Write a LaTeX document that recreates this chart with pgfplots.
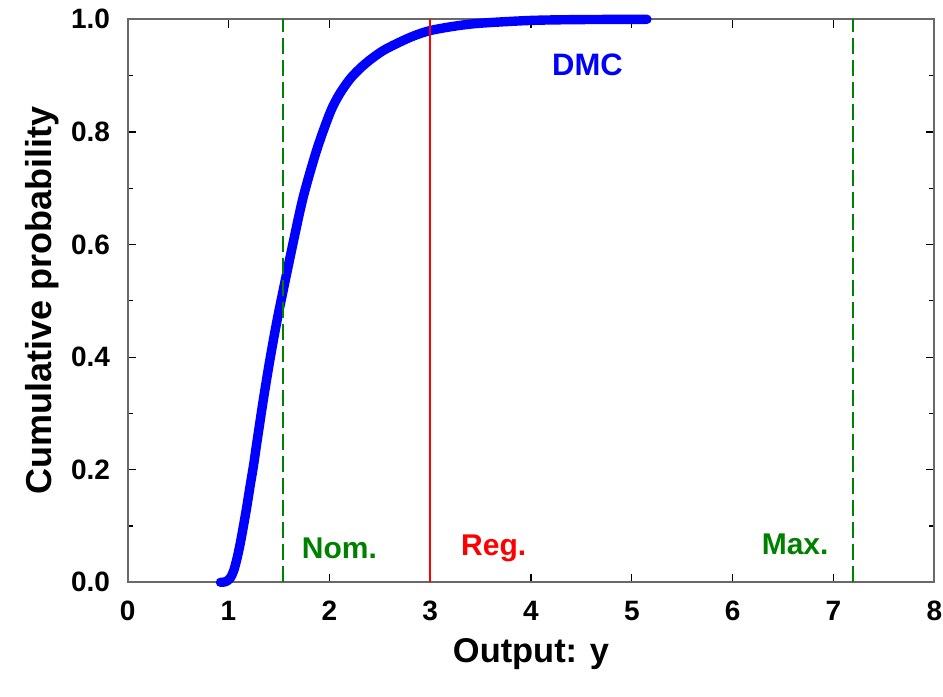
\documentclass[border=0pt]{standalone}
\usepackage{pgfplots}
\pgfplotsset{compat=1.18}
\usepackage{fontspec}
\setmainfont{Liberation Sans}
\definecolor{myblue}{RGB}{0,0,255}
\definecolor{mygreen}{RGB}{0,128,0}
\definecolor{myred}{RGB}{255,0,0}
\definecolor{axgray}{RGB}{105,105,105}
\begin{document}
\begin{tikzpicture}
\begin{axis}[
  name=ax,
  scale only axis,
  width=403.3pt, height=281.5pt,
  xmin=0, xmax=8, ymin=0, ymax=1,
  xtick={0,1,...,8},
  ytick={0,0.2,...,1.0},
  minor y tick num=1,
  tick align=inside,
  xtick pos=both, ytick pos=both,
  major tick length=4.2pt,
  minor tick length=2.8pt,
  tick style={black, line width=0.6pt},
  axis line style={draw=axgray, line width=1pt},
  clip=false,
  /pgf/number format/assume math mode=true,
  ticklabel style={font=\bfseries\fontsize{14}{14}\selectfont},
  yticklabel style={/pgf/number format/.cd, fixed, fixed zerofill, precision=1, /tikz/.cd, xshift=-5.3pt},
  xticklabel style={yshift=-5.7pt},
  xlabel={Output: y},
  ylabel={Cumulative probability},
  xlabel style={font=\bfseries\fontsize{17.2}{17.2}\selectfont, at={(axis description cs:0.5,0)}, anchor=center, yshift=-36pt},
  ylabel style={font=\bfseries\fontsize{18}{18}\selectfont, at={(axis description cs:-0.1062,0.5)}, anchor=center},
]
\addplot[myblue, line width=4.7pt, line cap=round, line join=round, smooth, tension=0.5] coordinates {
(0.92,0.0) (0.97,0.001) (1.015,0.007) (1.05,0.02) (1.081,0.04) (1.115,0.068)
(1.147,0.099) (1.18,0.133) (1.213,0.17) (1.25,0.21) (1.28,0.247) (1.345,0.324)
(1.41,0.395) (1.478,0.462) (1.538,0.515) (1.643,0.605) (1.742,0.685) (1.875,0.768)
(2.007,0.834) (2.1,0.867) (2.205,0.894) (2.3,0.912) (2.404,0.928) (2.53,0.944)
(2.669,0.957) (2.83,0.970) (3.0,0.980) (3.25,0.988) (3.495,0.993) (4.0,0.998)
(4.5,0.9995) (5.15,1.0)
};
\addplot[mygreen, line width=1pt, dash pattern=on 8pt off 3pt] coordinates {(1.54,0) (1.54,1)};
\addplot[mygreen, line width=1pt, dash pattern=on 8pt off 3pt] coordinates {(7.19,0) (7.19,1)};
\addplot[myred, line width=0.75pt] coordinates {(3.0,0) (3.0,1)};
\node[font=\bfseries\fontsize{15}{15}\selectfont, text=mygreen] at (axis cs:2.10,0.061) {Nom.};
\node[font=\bfseries\fontsize{15}{15}\selectfont, text=myred] at (axis cs:3.63,0.061) {Reg.};
\node[font=\bfseries\fontsize{15}{15}\selectfont, text=mygreen] at (axis cs:6.62,0.067) {Max.};
\node[font=\bfseries\fontsize{15.5}{15.5}\selectfont, text=myblue] at (axis cs:4.56,0.92) {DMC};
\end{axis}
\path (ax.south west) ++(-63.85pt,-56.85pt) coordinate (A);
\path (ax.north east) ++(4.35pt,9.65pt) coordinate (B);
\pgfresetboundingbox
\path (A) rectangle (B);
\end{tikzpicture}
\end{document}
